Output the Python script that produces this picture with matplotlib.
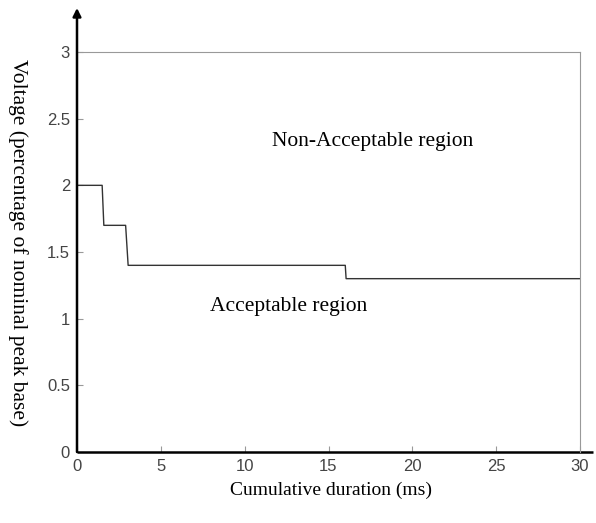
import matplotlib.pyplot as plt

# ============================
# DATA
# ============================

duration_ms = [0, 1.5, 1.6, 2.9, 3.05, 16.0, 16.05, 30]
voltage_pu = [2.0, 2.0, 1.7, 1.7, 1.4, 1.4, 1.3, 1.3]

x_ticks = [0, 5, 10, 15, 20, 25, 30]
y_ticks = [0, 0.5, 1, 1.5, 2, 2.5, 3]
y_tick_labels = ["0", "0.5", "1", "1.5", "2", "2.5", "3"]

# ============================
# PLOT CHART
# ============================

fig = plt.figure(figsize=(5.96, 5.23), dpi=100)
ax = fig.add_axes([77 / 596, 1 - 452 / 523, 503 / 596, 400 / 523])

ax.plot(duration_ms, voltage_pu, color="#333333", linewidth=1.0)

ax.set_xlim(0, 30)
ax.set_ylim(0, 3)
ax.set_xticks(x_ticks)
ax.set_yticks(y_ticks)
ax.set_yticklabels(y_tick_labels)
ax.tick_params(direction="in", length=4, color="#999999", labelcolor="#444444",
               labelsize=12, pad=5)
for lab in ax.get_xticklabels() + ax.get_yticklabels():
    lab.set_fontfamily("Liberation Sans")

for side in ["top", "right"]:
    ax.spines[side].set_color("#999999")
    ax.spines[side].set_linewidth(0.8)
ax.spines["left"].set_visible(False)
ax.spines["bottom"].set_visible(False)

# black axis lines with arrow on y
ax.annotate("", xy=(0, 1.11), xytext=(0, 0), xycoords="axes fraction",
            arrowprops=dict(arrowstyle="-|>", color="black", lw=1.8,
                            mutation_scale=12, shrinkA=0, shrinkB=0))
ax.plot([0, 1.025], [0, 0], transform=ax.transAxes, color="black",
        linewidth=1.8, clip_on=False, solid_capstyle="butt")

ax.text(17.65, 2.33, "Non-Acceptable region", ha="center", va="center",
        fontsize=15.5, fontfamily="Liberation Serif")
ax.text(12.64, 1.095, "Acceptable region", ha="center", va="center",
        fontsize=15.5, fontfamily="Liberation Serif")

fig.text(331 / 596, 1 - 490 / 523, "Cumulative duration (ms)", ha="center",
         va="center", fontsize=14, fontfamily="Liberation Serif")
fig.text(18 / 596, 1 - 243 / 523, "Voltage (percentage of nominal peak base)",
         ha="center", va="center", rotation=270, fontsize=15.5,
         fontfamily="Liberation Serif")

# ============================
# SAVE RESULT
# ============================

fig.savefig("out.png", dpi=100)
